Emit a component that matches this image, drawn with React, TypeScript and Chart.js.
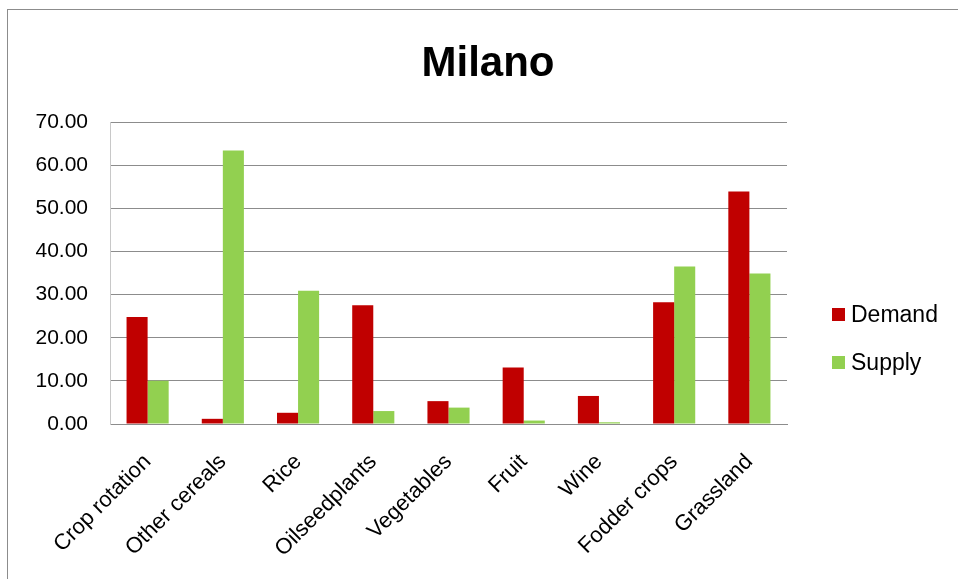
import React, { useEffect, useRef } from "react";
import { Chart, registerables } from "chart.js";

Chart.register(...registerables);

const categories = ["Crop rotation", "Other cereals", "Rice", "Oilseedplants", "Vegetables", "Fruit", "Wine", "Fodder crops", "Grassland"];
const demand = [24.8, 1.2, 2.6, 27.5, 5.3, 13.1, 6.5, 28.2, 53.9];
const supply = [10.0, 63.4, 30.9, 3.0, 3.8, 0.8, 0.4, 36.5, 34.9];
const seriesNames = ["Demand", "Supply"];
const seriesColors = ["#C00000", "#92D050"];
const yMin = 0;
const yMax = 70;
const yStep = 10;
const title = "Milano";

const FONT = "'Liberation Sans', 'DejaVu Sans', sans-serif";

export default function App() {
  const ref = useRef<HTMLCanvasElement | null>(null);

  useEffect(() => {
    if (!ref.current) return;
    const chart = new Chart(ref.current, {
      type: "bar",
      data: {
        labels: categories,
        datasets: [
          { label: seriesNames[0], data: demand, backgroundColor: seriesColors[0], categoryPercentage: 0.56, barPercentage: 1 },
          { label: seriesNames[1], data: supply, backgroundColor: seriesColors[1], categoryPercentage: 0.56, barPercentage: 1 },
        ],
      },
      options: {
        animation: false,
        responsive: false,
        maintainAspectRatio: false,
        layout: { padding: { left: 0, right: 171, top: 122, bottom: 0 } },
        plugins: {
          legend: { display: false },
          title: { display: false },
          tooltip: { enabled: false },
        },
        scales: {
          x: {
            grid: { display: false, drawTicks: false },
            border: { display: true, color: "#8c8c8c", width: 1 },
            ticks: {
              minRotation: 45,
              maxRotation: 45,
              padding: 25,
              color: "#000",
              font: { family: FONT, size: 22 },
            },
            afterFit: (scale: any) => {
              scale.height = 155;
            },
          },
          y: {
            min: yMin,
            max: yMax,
            grid: { color: "#8c8c8c", lineWidth: 1, drawTicks: false },
            border: { display: true, color: "#c8c8c8", width: 1 },
            ticks: {
              stepSize: yStep,
              padding: 22,
              color: "#000",
              font: { family: FONT, size: 21 },
              callback: (v: any) => Number(v).toFixed(2),
            },
            afterFit: (scale: any) => {
              scale.width = 110;
            },
          },
        },
      },
    });
    return () => chart.destroy();
  }, []);

  return (
    <div style={{ position: "fixed", left: 0, top: 0, width: 958, height: 579, background: "#fff", overflow: "hidden" }}>
      <div style={{ position: "absolute", left: 7, top: 9, width: 1000, height: 700, border: "1px solid #8c8c8c" }} />
      <canvas ref={ref} width={958} height={579} style={{ position: "absolute", left: 0, top: 0 }} />
      <div style={{ position: "absolute", left: 0, width: 976, top: 38, textAlign: "center", fontFamily: FONT, fontWeight: "bold", fontSize: 42, lineHeight: "48px", color: "#000" }}>
        {title}
      </div>
      {seriesNames.map((n, i) => (
        <div key={n} style={{ position: "absolute", left: 832, top: 300 + i * 48, height: 28, display: "flex", alignItems: "center", fontFamily: FONT, fontSize: 23, color: "#000" }}>
          <span style={{ display: "inline-block", width: 13, height: 13, background: seriesColors[i], marginRight: 6 }} />
          <span>{n}</span>
        </div>
      ))}
    </div>
  );
}
